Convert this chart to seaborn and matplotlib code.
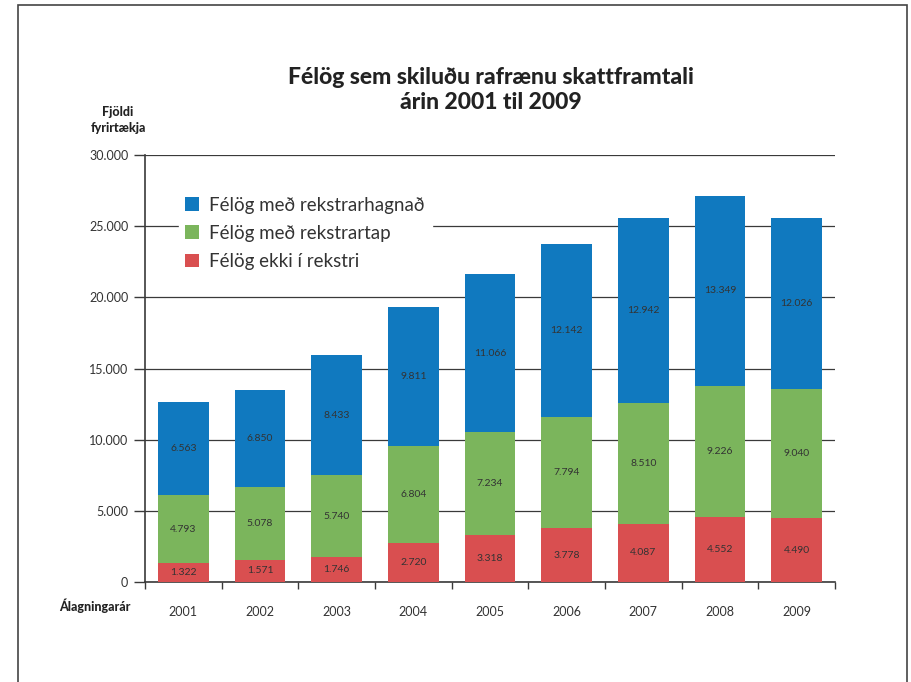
import numpy as np
import pandas as pd
import seaborn as sns
import matplotlib.pyplot as plt
import matplotlib.ticker as ticker
from matplotlib.patches import Rectangle, Patch

# Data
years = ['2001', '2002', '2003', '2004', '2005', '2006', '2007', '2008', '2009']
ekki_i_rekstri = [1322, 1571, 1746, 2720, 3318, 3778, 4087, 4552, 4490]
rekstrartap = [4793, 5078, 5740, 6804, 7234, 7794, 8510, 9226, 9040]
rekstrarhagnadur = [6563, 6850, 8433, 9811, 11066, 12142, 12942, 13349, 12026]

series_names = ['Félög með rekstrarhagnað', 'Félög með rekstrartap', 'Félög ekki í rekstri']
colors = {'Félög með rekstrarhagnað': '#1079bf',
          'Félög með rekstrartap': '#7bb55c',
          'Félög ekki í rekstri': '#d94f50'}

df = pd.DataFrame({'year': years,
                   'ekki': ekki_i_rekstri,
                   'tap': rekstrartap,
                   'hagnad': rekstrarhagnadur})
df['cum_ekki'] = df['ekki']
df['cum_tap'] = df['ekki'] + df['tap']
df['cum_hagnad'] = df['cum_tap'] + df['hagnad']

sns.set_style('white')
plt.rcParams['font.family'] = ['Lato', 'DejaVu Sans']

fig = plt.figure(figsize=(9.12, 6.82), dpi=100)
ax = fig.add_axes([145 / 912, 1 - 582 / 682, 690 / 912, 427 / 682])

# Stacked bars drawn as overlapping cumulative totals
bar_w = 0.665
sns.barplot(data=df, x='year', y='cum_hagnad', color=colors[series_names[0]],
            width=bar_w, saturation=1, linewidth=0, ax=ax, zorder=3)
sns.barplot(data=df, x='year', y='cum_tap', color=colors[series_names[1]],
            width=bar_w, saturation=1, linewidth=0, ax=ax, zorder=3)
sns.barplot(data=df, x='year', y='cum_ekki', color=colors[series_names[2]],
            width=bar_w, saturation=1, linewidth=0, ax=ax, zorder=3)

# Value labels in the middle of each segment
def fmt(v):
    return f'{v:,}'.replace(',', '.')

for i, row in df.iterrows():
    ax.text(i, row['cum_ekki'] / 2, fmt(row['ekki']), ha='center', va='center',
            fontsize=7.5, color='#333333', zorder=4)
    ax.text(i, row['cum_ekki'] + row['tap'] / 2, fmt(row['tap']), ha='center', va='center',
            fontsize=7.5, color='#333333', zorder=4)
    ax.text(i, row['cum_tap'] + row['hagnad'] / 2, fmt(row['hagnad']), ha='center', va='center',
            fontsize=7.5, color='#333333', zorder=4)

ax.set_xlim(-0.5, len(years) - 0.5)
ax.set_ylim(0, 30000)
ax.yaxis.set_major_locator(ticker.MultipleLocator(5000))
ax.yaxis.set_major_formatter(ticker.FuncFormatter(lambda v, p: '0' if v == 0 else fmt(int(v))))
ax.grid(axis='y', color='#3a3a3a', linewidth=0.9, zorder=0)
ax.set_axisbelow(True)

for s in ['top', 'right']:
    ax.spines[s].set_visible(False)
for s in ['left', 'bottom']:
    ax.spines[s].set_color('#3a3a3a')
    ax.spines[s].set_linewidth(1.2)

ax.set_xlabel('')
ax.set_ylabel('')
ax.tick_params(axis='y', which='major', left=True, length=8, width=1, color='#3a3a3a',
               labelsize=9, labelcolor='#333333', pad=4)
ax.tick_params(axis='x', which='major', bottom=False, labelsize=9, labelcolor='#333333', pad=14)
ax.set_xticks(np.arange(-0.5, len(years), 1.0), minor=True)
ax.tick_params(axis='x', which='minor', bottom=True, length=5, width=1, color='#3a3a3a')

# Axis titles
fig.text(118 / 912, 1 - 120 / 682, 'Fjöldi\nfyrirtækja', ha='center', va='center',
         fontsize=9, fontweight='black', color='#222222', linespacing=1.5)
fig.text(95 / 912, 1 - 606 / 682, 'Álagningarár', ha='center', va='center',
         fontsize=9, fontweight='black', color='#222222')

# Title
fig.text(491 / 912, 1 - 90 / 682, 'Félög sem skiluðu rafrænu skattframtali\nárin 2001 til 2009',
         ha='center', va='center', fontsize=16.5, fontweight='black', color='#222222',
         linespacing=1.25)

# Legend
handles = [Patch(facecolor=colors[n], edgecolor='none') for n in series_names]
leg = ax.legend(handles, series_names, loc='upper left', bbox_to_anchor=(0.035, 0.94),
                fontsize=13.5, frameon=True, framealpha=1, facecolor='white',
                edgecolor='white', handlelength=0.75, handleheight=0.75, handletextpad=0.55,
                labelspacing=0.6, borderpad=0.35)
for t in leg.get_texts():
    t.set_color('#333333')
leg.set_zorder(5)

# Outer frame around the figure
fig.patches.append(Rectangle((18 / 912, -0.02), (907 - 18) / 912, 1 - 5 / 682 + 0.02,
                             transform=fig.transFigure, fill=False, edgecolor='#444444',
                             linewidth=1.2))

fig.savefig('out.png', dpi=100)
